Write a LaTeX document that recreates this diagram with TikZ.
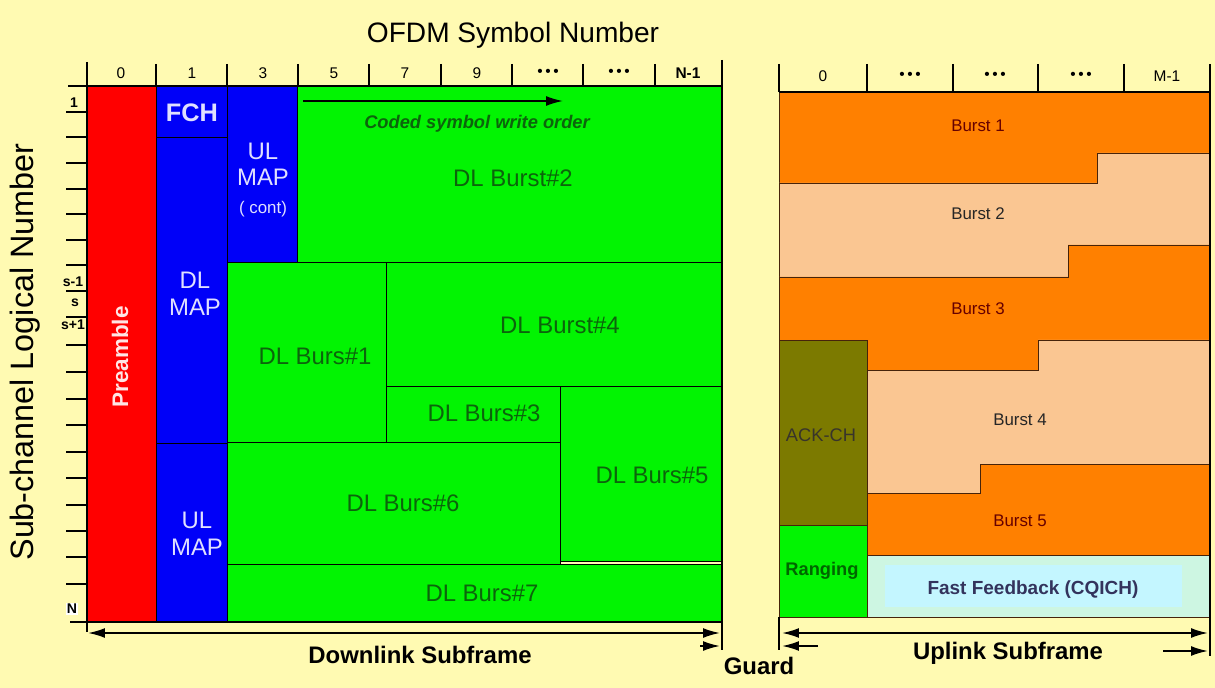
\documentclass[tikz,border=0pt]{standalone}
\usepackage{fontspec}
\setmainfont{Liberation Sans}
\usepackage{tikz}
\usetikzlibrary{arrows.meta}

\definecolor{bgyellow}{RGB}{255,250,178}
\definecolor{prered}{RGB}{255,0,0}
\definecolor{mapblue}{RGB}{0,0,248}
\definecolor{dlgreen}{RGB}{2,244,2}
\definecolor{dltext}{RGB}{12,100,12}
\definecolor{ulorange}{RGB}{255,128,0}
\definecolor{ulpeach}{RGB}{250,198,146}
\definecolor{ackolive}{RGB}{124,122,0}
\definecolor{cqmint}{RGB}{205,246,226}
\definecolor{cqcyan}{RGB}{196,246,255}
\definecolor{uledge}{RGB}{70,35,10}

\begin{document}
\begin{tikzpicture}[x=0.025cm,y=-0.025cm,>={Latex[length=12pt,width=7pt]},
		blk/.style={draw=black,line width=0.6pt},
		ulblk/.style={draw=uledge,line width=0.6pt},
		dlt/.style={text=dltext,font=\fontsize{17}{17}\selectfont},
		mapt/.style={text=white!88!blue,font=\fontsize{17}{19}\selectfont,align=center},
		axlbl/.style={font=\fontsize{11}{11}\selectfont},
		burstt/.style={font=\fontsize{12}{12}\selectfont},
		subt/.style={font=\bfseries\fontsize{17}{17}\selectfont}]
				\fill[bgyellow] (0,0) rectangle (1215,688);
				\useasboundingbox (0,0) rectangle (1215,688);
				% titles
				\node[font=\fontsize{20}{20}\selectfont] (title) at (513,35) {OFDM Symbol Number};
				\node[font=\fontsize{23}{23}\selectfont,rotate=90] (side) at (25,352) {Sub-channel Logical Number};
				% downlink blocks
				\filldraw[blk,fill=prered] (87,86) rectangle (156,622);
				\filldraw[blk,fill=mapblue] (156,86) rectangle (227,137);
				\filldraw[blk,fill=mapblue] (156,137) rectangle (227,443);
				\filldraw[blk,fill=mapblue] (156,443) rectangle (227,622);
				\filldraw[blk,fill=mapblue] (227,86) rectangle (297,262);
				\filldraw[blk,fill=dlgreen] (297,86) rectangle (722,262);
				\filldraw[blk,fill=dlgreen] (227,262) rectangle (386,442);
				\filldraw[blk,fill=dlgreen] (386,262) rectangle (722,386);
				\filldraw[blk,fill=dlgreen] (386,386) rectangle (560,442);
				\filldraw[blk,fill=dlgreen] (560,386) rectangle (722,561);
				\filldraw[blk,fill=dlgreen] (227,442) rectangle (560,564);
				\filldraw[blk,fill=dlgreen] (227,564) rectangle (722,622);
				\node[rotate=90,text=white!90!red,font=\bfseries\fontsize{16}{16}\selectfont] (pre) at (120,357) {Preamble};
				\node[mapt,font=\bfseries\fontsize{18}{18}\selectfont] (fch) at (192,113) {FCH};
				\node[mapt] (dlmap) at (195,294) {DL\\MAP};
				\node[mapt] (ulmap) at (197,534) {UL\\MAP};
				\node[mapt] (ulcont) at (263,180) {UL\\MAP\\[1pt]{\fontsize{12}{12}\selectfont( cont)}};
				\coordinate (wrS) at (303,101);
				\coordinate (wrE) at (563,101);
				\draw[black, line width=1.2pt,->] (wrS) -- (wrE);
				\node[text=dltext,font=\bfseries\itshape\fontsize{13}{13}\selectfont] (order) at (477,124) {Coded symbol write order};
				\node[dlt] (b2) at (513,178) {DL Burst\#2};
				\node[dlt] (b1) at (315,356) {DL Burs\#1};
				\node[dlt] (b4) at (560,325) {DL Burst\#4};
				\node[dlt] (b3) at (484,413) {DL Burs\#3};
				\node[dlt] (b5) at (652,475) {DL Burs\#5};
				\node[dlt] (b6) at (403,503) {DL Burs\#6};
				\node[dlt] (b7) at (482,593) {DL Burs\#7};
				% downlink axes
				\draw[black, line width=1.8pt] (68,86) -- (722,86);
				\draw[black, line width=1.8pt] (87,62) -- (87,632);
				\draw[black, line width=1.8pt] (722,60) -- (722,622);
				\draw[black, line width=1.8pt] (70,622) -- (722,622);
				\draw[black, line width=0.8pt] (156,64) -- (156,86) (227,64) -- (227,86) (298,64) -- (298,86)
					(369,64) -- (369,86) (441,64) -- (441,86) (512,64) -- (512,86) (583,64) -- (583,86) (655,64) -- (655,86);
				\node[axlbl] (c0) at (121,73) {0};
				\node[axlbl] (c1) at (192,73) {1};
				\node[axlbl] (c3) at (263,73) {3};
				\node[axlbl] (c5) at (334,73) {5};
				\node[axlbl] (c7) at (405,73) {7};
				\node[axlbl] (c9) at (477,73) {9};
				\node[axlbl] (cd1) at (548,73) {\textbullet\,\textbullet\,\textbullet};
				\node[axlbl] (cd2) at (619,73) {\textbullet\,\textbullet\,\textbullet};
				\node[axlbl,font=\bfseries\fontsize{11}{11}\selectfont] (cn) at (688,73) {N-1};
				\draw[black, line width=0.8pt] (66,112) -- (87,112) (66,137) -- (87,137) (66,163) -- (87,163) (66,189) -- (87,189)
					(66,214) -- (87,214) (66,240) -- (87,240) (66,265) -- (87,265) (66,291) -- (87,291) (66,317) -- (87,317)
					(66,345) -- (87,345) (66,372) -- (87,372) (66,399) -- (87,399) (66,425) -- (87,425) (66,452) -- (87,452)
					(66,478) -- (87,478) (66,505) -- (87,505) (66,531) -- (87,531) (66,557) -- (87,557) (66,584) -- (87,584);
				\node[axlbl,font=\bfseries\fontsize{10}{10}\selectfont] (r1) at (74,103) {1};
				\node[axlbl,font=\bfseries\fontsize{10}{10}\selectfont] (rs1) at (73,282) {s-1};
				\node[axlbl,font=\bfseries\fontsize{10}{10}\selectfont] (rs) at (75,303) {s};
				\node[axlbl,font=\bfseries\fontsize{10}{10}\selectfont] (rs2) at (73,325) {s+1};
				\node[axlbl,fill=white,inner sep=1pt,font=\bfseries\fontsize{10}{10}\selectfont] (rn) at (72,609) {N};
				% uplink blocks
				\filldraw[ulblk,fill=ulorange] (779,92) -- (1210,92) -- (1210,153) -- (1097,153) -- (1097,183) -- (779,183) -- cycle;
				\filldraw[ulblk,fill=ulpeach] (779,183) -- (1097,183) -- (1097,153) -- (1210,153) -- (1210,245) -- (1068,245) -- (1068,277) -- (779,277) -- cycle;
				\filldraw[ulblk,fill=ulorange] (779,277) -- (1068,277) -- (1068,245) -- (1210,245) -- (1210,340) -- (1038,340) -- (1038,370) -- (867,370) -- (867,340) -- (779,340) -- cycle;
				\filldraw[ulblk,fill=ulpeach] (867,370) -- (1038,370) -- (1038,340) -- (1210,340) -- (1210,464) -- (980,464) -- (980,493) -- (867,493) -- cycle;
				\filldraw[ulblk,fill=ulorange] (867,493) -- (980,493) -- (980,464) -- (1210,464) -- (1210,555) -- (867,555) -- cycle;
				\filldraw[ulblk,fill=ackolive] (779,340) rectangle (867,525);
				\filldraw[ulblk,fill=dlgreen] (779,525) rectangle (867,617);
				\filldraw[ulblk,fill=cqmint] (867,555) rectangle (1210,617);
				\fill[cqcyan] (885,565) rectangle (1182,607);
				\node[burstt,text=red!40!black] (u1) at (978,126) {Burst 1};
				\node[burstt,text=black!85] (u2) at (978,214) {Burst 2};
				\node[burstt,text=red!40!black] (u3) at (978,309) {Burst 3};
				\node[burstt,text=black!85] (u4) at (1020,420) {Burst 4};
				\node[burstt,text=red!40!black] (u5) at (1020,521) {Burst 5};
				\node[text=black!80!olive,font=\fontsize{13}{13}\selectfont] (ack) at (821,435) {ACK-CH};
				\node[text=green!40!black,font=\bfseries\fontsize{13}{13}\selectfont] (rng) at (822,571) {Ranging};
				\node[text=blue!20!black!80,font=\bfseries\fontsize{13.5}{13.5}\selectfont] (cq) at (1033,590) {Fast Feedback (CQICH)};
				% uplink axis
				\draw[black, line width=1pt] (779,92) -- (1210,92);
				\draw[black, line width=1pt] (779,64) -- (779,92) (867,64) -- (867,92) (953,64) -- (953,92)
					(1038,64) -- (1038,92) (1124,64) -- (1124,92) (1210,64) -- (1210,92);
				\node[axlbl] (m0) at (823,76) {0};
				\node[axlbl] (md1) at (910,76) {\textbullet\,\textbullet\,\textbullet};
				\node[axlbl] (md2) at (995,76) {\textbullet\,\textbullet\,\textbullet};
				\node[axlbl] (md3) at (1081,76) {\textbullet\,\textbullet\,\textbullet};
				\node[axlbl] (mm) at (1167,76) {M-1};
				% subframe arrows
				\coordinate (dlL) at (88,633);
				\coordinate (dlR) at (720,633);
				\coordinate (gdA) at (700,646);
				\coordinate (gdB) at (720,646);
				\coordinate (gdC) at (818,646);
				\coordinate (gdD) at (782,646);
				\coordinate (ulL) at (782,633);
				\coordinate (ulR) at (1208,633);
				\coordinate (ulA) at (1163,651);
				\coordinate (ulB) at (1208,651);
				\draw[black, line width=1.3pt,<->] (dlL) -- (dlR);
				\draw[black, line width=1.3pt,->] (gdA) -- (gdB);
				\draw[black, line width=1.3pt,->] (gdC) -- (gdD);
				\draw[black, line width=1.3pt,<->] (ulL) -- (ulR);
				\draw[black, line width=1.3pt,->] (ulA) -- (ulB);
				\draw[black, line width=1pt] (722,622) -- (722,650);
				\draw[black, line width=1pt] (779,617) -- (779,650);
				\draw[black, line width=1pt] (1210,92) -- (1210,656);
				\node[subt] (dlsub) at (420,655) {Downlink Subframe};
				\node[subt] (guard) at (759,666) {Guard};
				\node[subt] (ulsub) at (1008,653) {Uplink Subframe};
			\end{tikzpicture}
\end{document}
